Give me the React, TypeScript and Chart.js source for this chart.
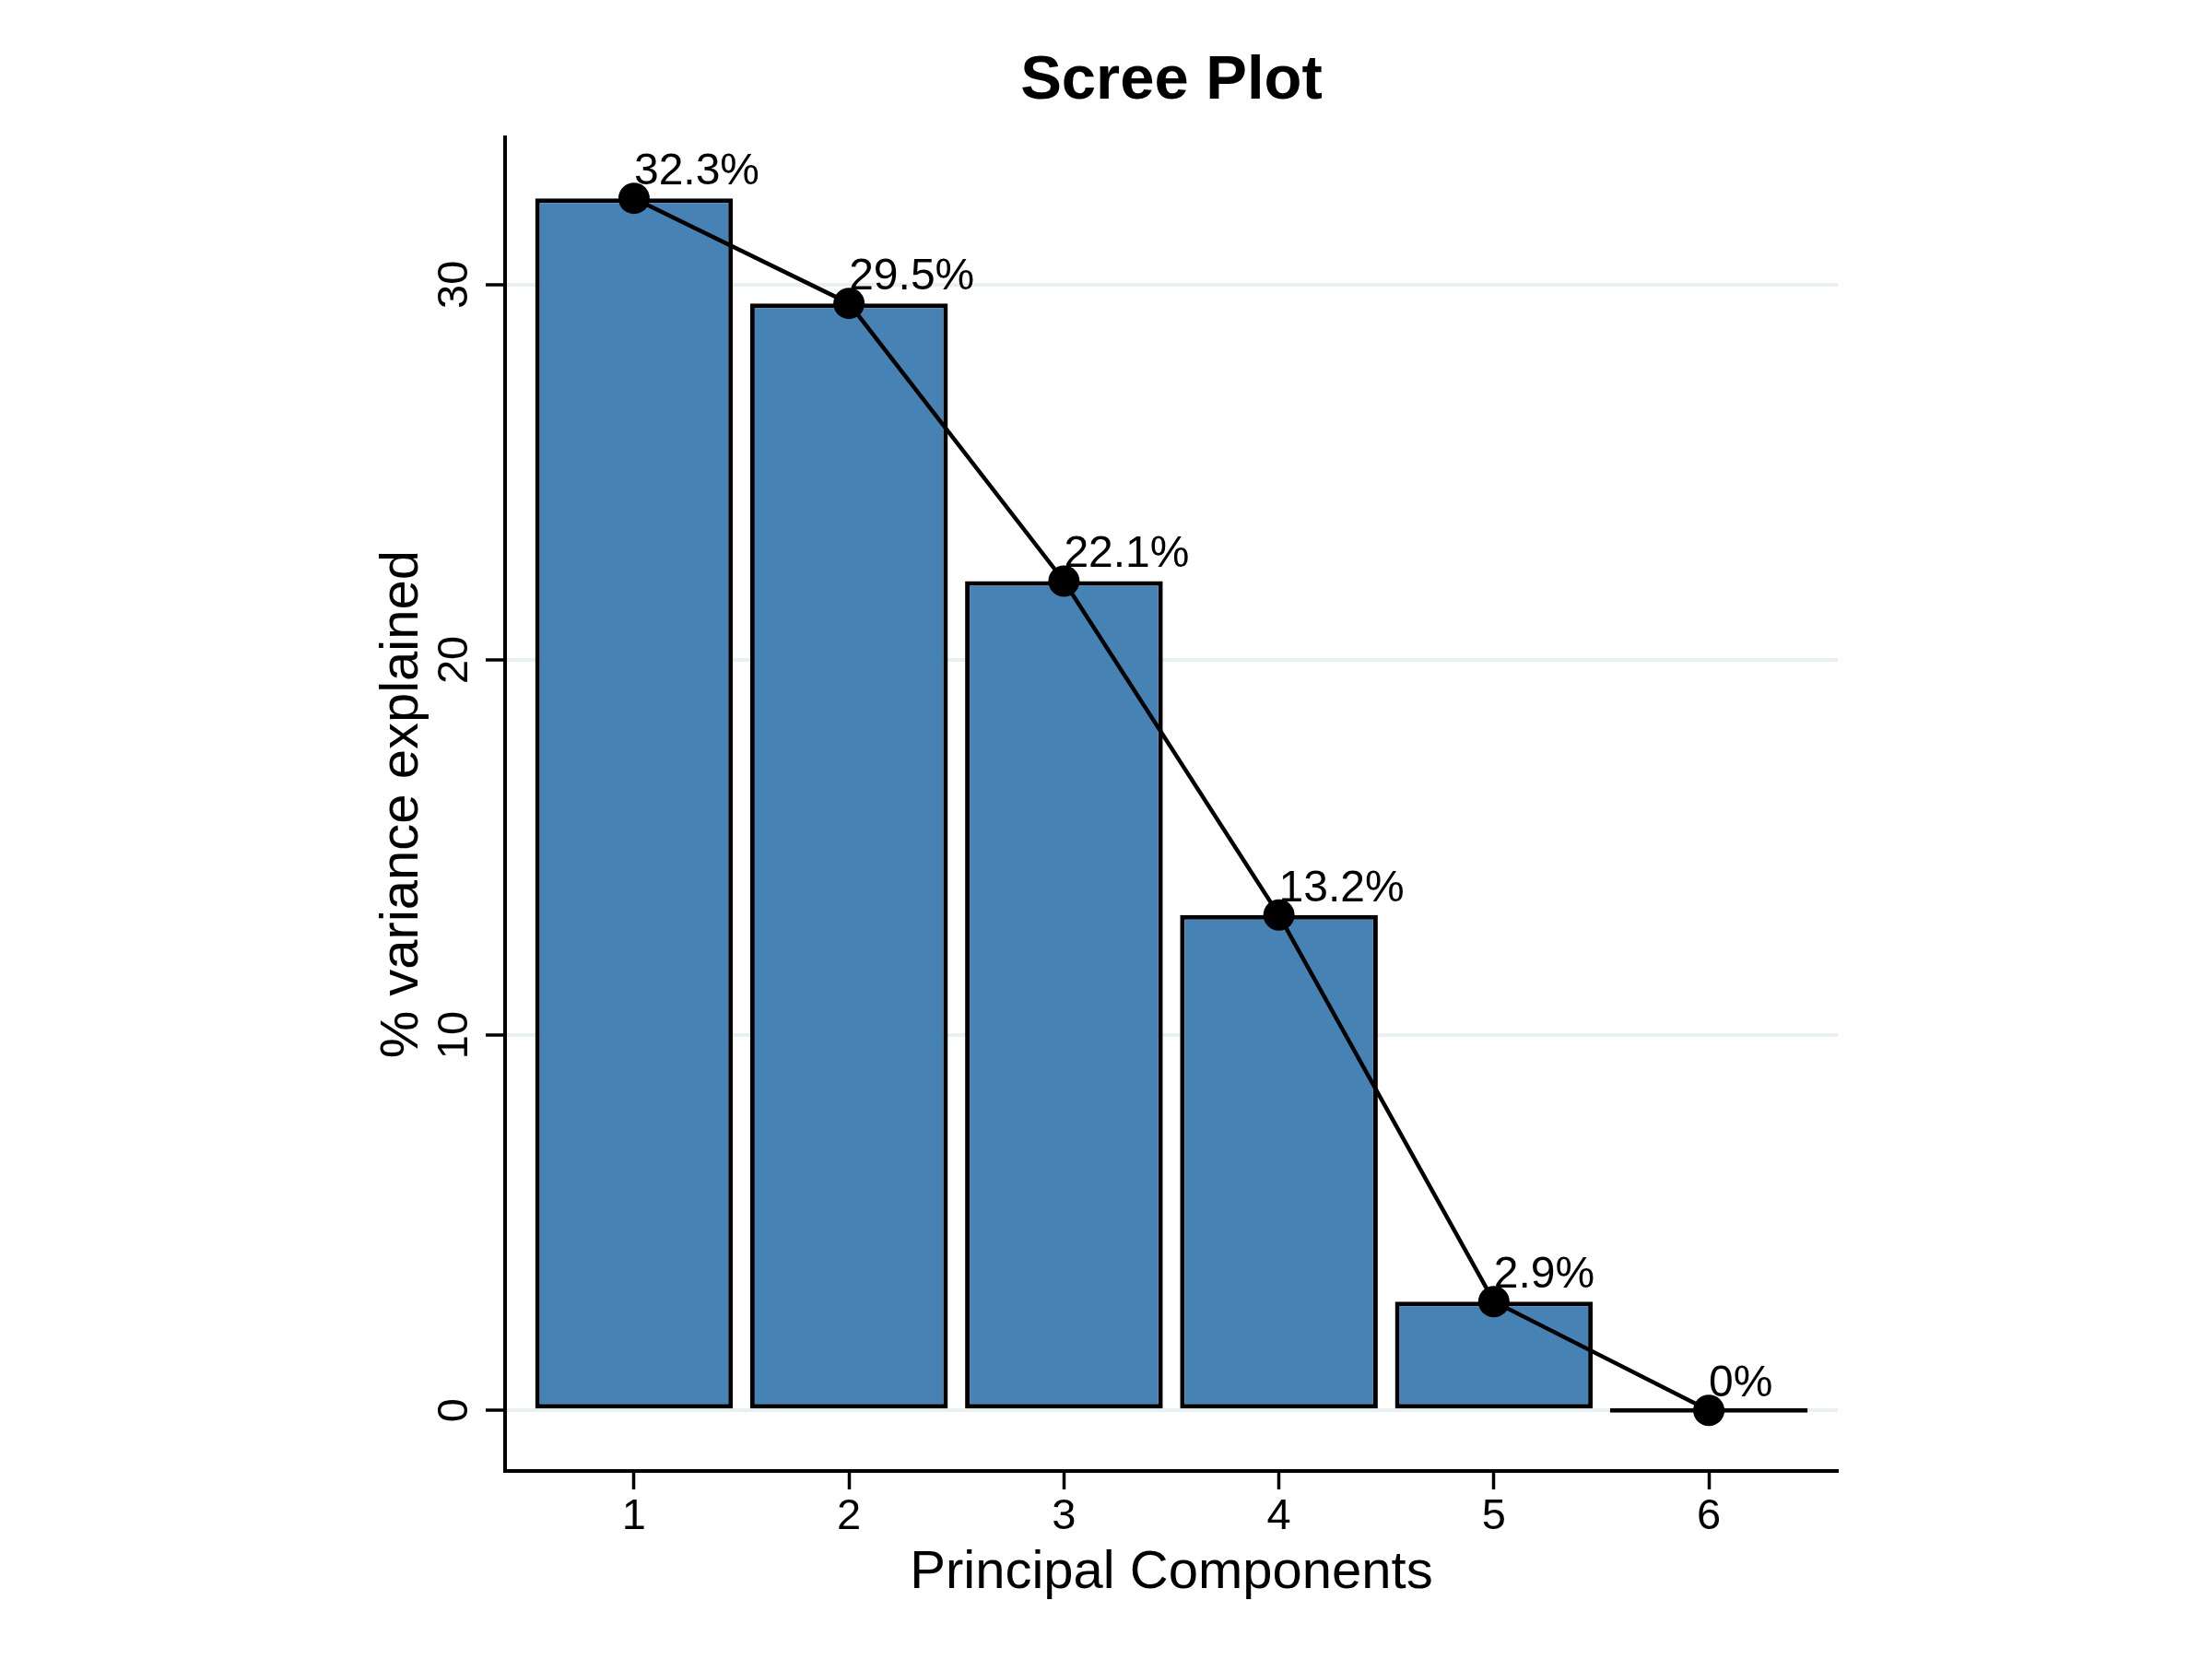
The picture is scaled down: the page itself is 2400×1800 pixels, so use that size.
import { useEffect, useRef } from "react";
import { Chart, registerables } from "chart.js";

Chart.register(...registerables);

// Scree plot data
const components = [1, 2, 3, 4, 5, 6];
const varianceExplained = [32.3, 29.5, 22.1, 13.2, 2.9, 0];
const pointLabels = ["32.3%", "29.5%", "22.1%", "13.2%", "2.9%", "0%"];
const yTickValues = [0, 10, 20, 30];

const FONT = '"Liberation Sans", Arial, Helvetica, sans-serif';

// Percent labels above each point, left-aligned at the point
const pointLabelPlugin = {
  id: "pointLabels",
  afterDatasetsDraw(chart: Chart) {
    const meta = chart.getDatasetMeta(1);
    const ctx = chart.ctx;
    ctx.save();
    ctx.font = `48px ${FONT}`;
    ctx.fillStyle = "#000000";
    ctx.textAlign = "left";
    ctx.textBaseline = "alphabetic";
    meta.data.forEach((pt: any, i: number) => {
      ctx.fillText(pointLabels[i], pt.x, pt.y - 15);
    });
    ctx.restore();
  },
};

export default function App() {
  const chartRef = useRef<HTMLCanvasElement>(null);
  const chartInstance = useRef<Chart | null>(null);

  useEffect(() => {
    if (!chartRef.current) return;
    if (chartInstance.current) chartInstance.current.destroy();

    const ctx = chartRef.current.getContext("2d");
    if (!ctx) return;

    Chart.defaults.font.family = FONT;
    Chart.defaults.color = "#000000";

    chartInstance.current = new Chart(ctx, {
      type: "bar",
      data: {
        datasets: [
          {
            type: "bar",
            data: components.map((c, i) => ({ x: c, y: varianceExplained[i] })),
            backgroundColor: "#4682B4",
            borderColor: "#000000",
            borderWidth: 5,
            borderSkipped: false,
            barPercentage: 0.92,
            categoryPercentage: 1,
            minBarLength: 5,
            order: 2,
          },
          {
            type: "line",
            data: components.map((c, i) => ({ x: c, y: varianceExplained[i] })),
            borderColor: "#000000",
            borderWidth: 4.5,
            tension: 0,
            pointRadius: 17,
            pointBackgroundColor: "#000000",
            pointBorderWidth: 0,
            order: 1,
          },
        ] as any,
      },
      options: {
        responsive: false,
        animation: false,
        devicePixelRatio: 1,
        events: [],
        layout: {
          padding: { top: 0, right: 406, bottom: 40, left: 380 },
        },
        scales: {
          x: {
            type: "linear",
            offset: false,
            min: 0.4,
            max: 6.6,
            afterBuildTicks: (scale: any) => {
              scale.ticks = components.map((v) => ({ value: v }));
            },
            afterFit: (scale: any) => {
              scale.height = 164;
            },
            ticks: {
              font: { size: 47 },
              color: "#000000",
              padding: 2,
              callback: (v: any) => String(v),
            },
            grid: {
              offset: false,
              drawOnChartArea: false,
              tickColor: "#000000",
              tickLength: 20,
              tickWidth: 3.5,
            },
            border: { display: true, color: "#000000", width: 4 },
            title: {
              display: true,
              text: "Principal Components",
              font: { size: 58 },
              color: "#000000",
              padding: { top: 0, bottom: 18 },
            },
          },
          y: {
            type: "linear",
            min: -1.615,
            max: 33.915,
            afterBuildTicks: (scale: any) => {
              scale.ticks = yTickValues.map((v) => ({ value: v }));
            },
            afterFit: (scale: any) => {
              scale.width = 168;
            },
            ticks: {
              font: { size: 47 },
              color: "#000000",
              padding: 7,
              minRotation: 90,
              maxRotation: 90,
              crossAlign: "center",
              callback: (v: any) => String(v),
            },
            grid: {
              color: "#e9f0f2",
              lineWidth: 4,
              tickColor: "#000000",
              tickLength: 21,
              tickWidth: 3.5,
            },
            border: { display: true, color: "#000000", width: 4 },
            title: {
              display: true,
              text: "% variance explained",
              font: { size: 58 },
              color: "#000000",
              padding: { top: 22, bottom: 0 },
            },
          },
        },
        plugins: {
          legend: { display: false },
          tooltip: { enabled: false },
          title: {
            display: true,
            text: "Scree Plot",
            fullSize: false,
            color: "#000000",
            font: { size: 67, weight: "bold" },
            padding: { top: 48, bottom: 21 },
          },
        },
      } as any,
      plugins: [pointLabelPlugin],
    });

    return () => {
      if (chartInstance.current) {
        chartInstance.current.destroy();
        chartInstance.current = null;
      }
    };
  }, []);

  return (
    <div style={{ position: "absolute", left: 0, top: 0, width: 2400, height: 1800, background: "#ffffff" }}>
      <canvas ref={chartRef} width={2400} height={1800} style={{ display: "block" }} />
    </div>
  );
}
